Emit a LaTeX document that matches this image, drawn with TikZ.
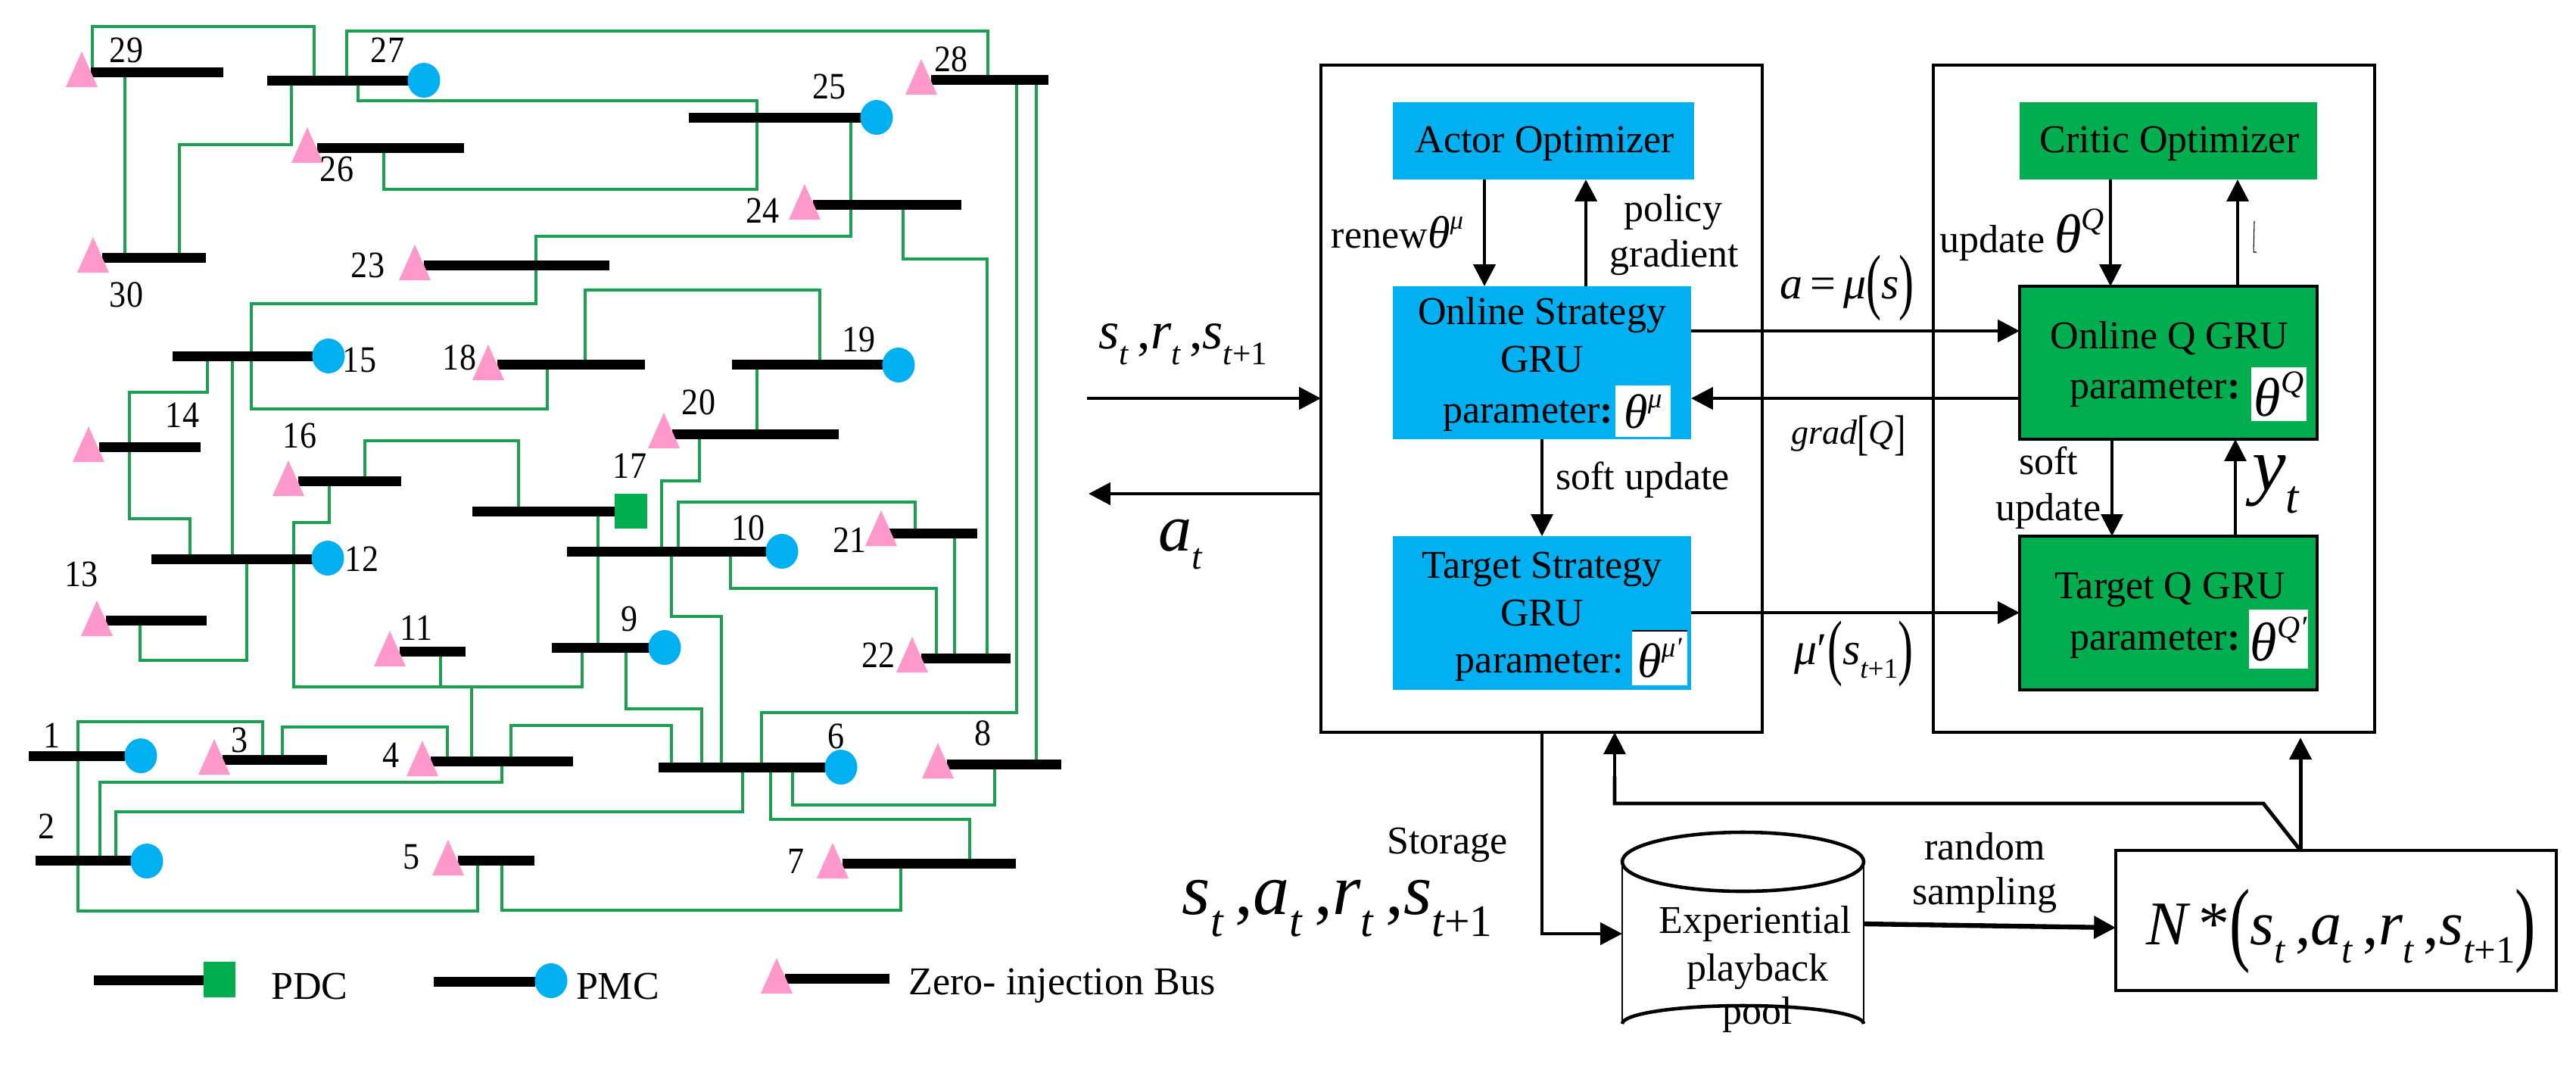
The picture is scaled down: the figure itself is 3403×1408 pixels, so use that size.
\documentclass[tikz,border=0pt]{standalone}
\usepackage{fontspec}
\setmainfont{Liberation Serif}
\usetikzlibrary{arrows.meta,shapes.geometric,backgrounds}
\definecolor{wirec}{HTML}{1AA050}
\definecolor{pinkc}{HTML}{FF99CC}
\definecolor{bluec}{HTML}{00B0F0}
\definecolor{greenc}{HTML}{00AD4F}
\newcommand{\pxfont}[1]{\fontsize{\fpeval{#1*0.28453}}{\fpeval{#1*0.34}}\selectfont}
\newcommand{\vi}[1]{{\itshape #1}}
\newcommand{\sbx}[1]{\raisebox{-.3em}{\scalebox{.62}{#1}}}
\newcommand{\spx}[1]{\raisebox{.42em}{\scalebox{.58}{\itshape #1}}}
\newcommand{\tallp}[2]{\raisebox{-.15em}{\scalebox{1}[#2]{#1}}}
\newcommand{\busn}[4]{\node[bus,minimum width={(#3-#2)*0.01cm}] (#1) at ({(#2+#3)/2},#4) {};}
\newcommand{\tri}[2]{\fill[pinkc] (#1,#2) -- ++(-21,47) -- ++(42,0) -- cycle;}
\newcommand{\pmc}[3]{\node[pmcn] (#1) at (#2,#3) {};}
\newcommand{\numl}[3]{\node[num] (n#1) at (#2,#3) {\scalebox{1}[1.12]{#1}};}
\newcommand{\boxn}[6]{\node[#1,minimum width={(#5-#3)*0.01cm},minimum height={(#6-#4)*0.01cm}] (#2) at ({(#3+#5)/2},{(#4+#6)/2}) {};}
\tikzset{
  bus/.style={rectangle,fill=black,inner sep=0,outer sep=0,minimum height=0.13cm},
  wire/.style={draw=wirec,line width=1.25pt,line join=miter},
  pmcn/.style={ellipse,fill=bluec,inner sep=0,outer sep=0,minimum width=0.43cm,minimum height=0.46cm},
  num/.style={inner sep=0,font=\pxfont{44}},
  txt/.style={inner sep=0,font=\pxfont{52}},
  frame/.style={rectangle,draw=black,line width=1.15pt,inner sep=0,outer sep=0},
  bluebox/.style={rectangle,fill=bluec,inner sep=0,outer sep=0},
  greenbox/.style={rectangle,fill=greenc,inner sep=0,outer sep=0},
  greenframe/.style={rectangle,fill=greenc,draw=black,line width=1.15pt,inner sep=0,outer sep=0},
  whitebox/.style={rectangle,fill=white,inner sep=0,outer sep=0},
  plainbox/.style={rectangle,inner sep=0,outer sep=0},
  thinarrow/.style={line width=0.95pt,-{Triangle[length=8.2pt,width=8.2pt]}},
  thickarrow/.style={line width=1.4pt,-{Triangle[length=8.2pt,width=8.2pt]}},
  thinline/.style={line width=0.95pt},
  thickline/.style={line width=1.4pt},
}
\begin{document}
\begin{tikzpicture}[x=0.01cm,y=-0.01cm]
\useasboundingbox (0,0) rectangle (3403,1408);
% ---------- buses
\busn{b1}{38}{165}{998}
\busn{b2}{47}{174}{1136}
\busn{b3}{294}{432}{1003}
\busn{b4}{569}{757}{1005}
\busn{b5}{605}{706}{1136}
\busn{b6}{870}{1090}{1013}
\busn{b7}{1113}{1342}{1140}
\busn{b8}{1251}{1402}{1009}
\busn{b9}{729}{858}{855}
\busn{b10}{749}{1012}{728}
\busn{b11}{528}{615}{860}
\busn{b12}{200}{413}{738}
\busn{b13}{140}{273}{819}
\busn{b14}{131}{265}{590}
\busn{b15}{228}{415}{470}
\busn{b16}{394}{530}{635}
\busn{b17}{624}{812}{675}
\busn{b18}{657}{852}{481}
\busn{b19}{967}{1168}{481}
\busn{b20}{888}{1108}{573}
\busn{b21}{1175}{1291}{704}
\busn{b22}{1217}{1335}{869}
\busn{b23}{560}{805}{350}
\busn{b24}{1074}{1270}{270}
\busn{b25}{910}{1138}{155}
\busn{b26}{419}{613}{195}
\busn{b27}{353}{540}{106}
\busn{b28}{1230}{1385}{105}
\busn{b29}{120}{295}{95}
\busn{b30}{135}{272}{340}
\busn{lg1}{124}{269}{1294}
\busn{lg2}{573}{707}{1296}
\busn{lg3}{1037}{1175}{1292}
% ---------- wires
\begin{scope}[on background layer]
\draw[wire] (122,0 |- b29) -- (122,35) -- (415,35) -- (415,0 |- b27);
\draw[wire] (165,0 |- b29) -- (165,0 |- b30);
\draw[wire] (458,0 |- b27) -- (458,41) -- (1305,41) -- (1305,0 |- b28);
\draw[wire] (473,0 |- b27) -- (473,133) -- (1000,133) -- (1000,250) -- (507,250) -- (507,0 |- b26);
\draw[wire] (385,0 |- b27) -- (385,191) -- (237,191) -- (237,0 |- b30);
\draw[wire] (1124,0 |- b25) -- (1124,312) -- (708,312) -- (708,401) -- (332,401) -- (332,540) -- (723,540) -- (723,0 |- b18);
\draw[wire] (773,0 |- b18) -- (773,383) -- (1083,383) -- (1083,0 |- b19);
\draw[wire] (1000,0 |- b19) -- (1000,0 |- b20);
\draw[wire] (274,0 |- b15) -- (274,518) -- (171,518) -- (171,685) -- (251,685) -- (251,0 |- b12);
\draw[wire] (307,0 |- b15) -- (307,0 |- b12);
\draw[wire] (326,0 |- b12) -- (326,872) -- (185,872) -- (185,0 |- b13);
\draw[wire] (482,0 |- b16) -- (482,582) -- (685,582) -- (685,0 |- b17);
\draw[wire] (435,0 |- b16) -- (435,690) -- (388,690) -- (388,907) -- (769,907) -- (769,0 |- b9);
\draw[wire] (582,0 |- b11) -- (582,907);
\draw[wire] (623,907) -- (623,0 |- b4);
\draw[wire] (790,0 |- b17) -- (790,0 |- b9);
\draw[wire] (924,0 |- b20) -- (924,635) -- (874,635) -- (874,0 |- b10);
\draw[wire] (896,0 |- b10) -- (896,663) -- (1209,663) -- (1209,0 |- b21);
\draw[wire] (1261,0 |- b21) -- (1261,0 |- b22);
\draw[wire] (965,0 |- b10) -- (965,777) -- (1237,777) -- (1237,0 |- b22);
\draw[wire] (887,0 |- b10) -- (887,814) -- (953,814) -- (953,0 |- b6);
\draw[wire] (827,0 |- b9) -- (827,936) -- (927,936) -- (927,0 |- b6);
\draw[wire] (1193,0 |- b24) -- (1193,342) -- (1304,342) -- (1304,0 |- b22);
\draw[wire] (1343,0 |- b28) -- (1343,941) -- (1006,941) -- (1006,0 |- b6);
\draw[wire] (1369,0 |- b28) -- (1369,0 |- b8);
\draw[wire] (1047,0 |- b6) -- (1047,1063) -- (1314,1063) -- (1314,0 |- b8);
\draw[wire] (1018,0 |- b6) -- (1018,1082) -- (1281,1082) -- (1281,0 |- b7);
\draw[wire] (981,0 |- b6) -- (981,1072) -- (153,1072) -- (153,0 |- b2);
\draw[wire] (1190,0 |- b7) -- (1190,1202) -- (663,1202) -- (663,0 |- b5);
\draw[wire] (347,0 |- b3) -- (347,953) -- (103,953) -- (103,1203) -- (631,1203) -- (631,0 |- b5);
\draw[wire] (373,0 |- b3) -- (373,960) -- (591,960) -- (591,0 |- b4);
\draw[wire] (675,0 |- b4) -- (675,958) -- (887,958) -- (887,0 |- b6);
\draw[wire] (663,0 |- b4) -- (663,1033) -- (132,1033) -- (132,0 |- b2);
\end{scope}
% ---------- triangles
\tri{108}{68} \tri{406}{168} \tri{123}{313} \tri{548}{323} \tri{1217}{78} \tri{1063}{243}
\tri{645}{455} \tri{877}{545} \tri{117}{563} \tri{128}{793} \tri{381}{608} \tri{515}{833}
\tri{1164}{674} \tri{1205}{841} \tri{1239}{981} \tri{1100}{1113} \tri{283}{976} \tri{558}{978}
\tri{592}{1109} \tri{1026}{1265}
% ---------- circles and squares
\pmc{c1}{186}{998} \pmc{c2}{194}{1137} \pmc{c6}{1111}{1013} \pmc{c9}{878}{855} \pmc{c10}{1033}{728}
\pmc{c12}{433}{737} \pmc{c15}{434}{470} \pmc{c19}{1187}{482} \pmc{c25}{1158}{155} \pmc{c27}{560}{106}
\pmc{clg}{728}{1295}
\boxn{greenbox}{sq17}{812}{652}{855}{698}
\boxn{greenbox}{sqlg}{269}{1270}{311}{1317}
% ---------- numbers
\numl{1}{69}{971} \numl{2}{62}{1091} \numl{3}{317}{977} \numl{4}{516}{997} \numl{5}{543}{1132}
\numl{6}{1104}{972} \numl{7}{1051}{1137} \numl{8}{1298}{968} \numl{9}{831}{817} \numl{10}{988}{697}
\numl{11}{550}{829} \numl{12}{478}{738} \numl{13}{108}{758} \numl{14}{241}{548} \numl{15}{475}{475}
\numl{16}{396}{575} \numl{17}{832}{615} \numl{18}{607}{472} \numl{19}{1134}{448} \numl{20}{923}{531}
\numl{21}{1122}{713} \numl{22}{1160}{865} \numl{23}{486}{350} \numl{24}{1007}{278} \numl{25}{1095}{114}
\numl{26}{445}{223} \numl{27}{512}{66} \numl{28}{1256}{78} \numl{29}{167}{66} \numl{30}{167}{389}
% ---------- legend
\node[txt] (pdc) at (409,1302) {PDC};
\node[txt] (pmct) at (816,1302) {PMC};
\node[txt,anchor=west] (zib) at (1200,1302) {Zero- injection Bus};
% ---------- right part: frames
\boxn{frame}{frA}{1745}{86}{2328}{967}
\boxn{frame}{frB}{2554}{86}{3137}{967}
\boxn{bluebox}{actor}{1840}{135}{2238}{237}
\boxn{bluebox}{online}{1840}{378}{2234}{580}
\boxn{bluebox}{target}{1840}{708}{2234}{911}
\boxn{greenbox}{critic}{2668}{135}{3061}{237}
\boxn{greenframe}{onq}{2668}{378}{3061}{580}
\boxn{greenframe}{tgq}{2668}{708}{3061}{911}
\boxn{frame}{nbox}{2795}{1123}{3377}{1308}
\boxn{plainbox}{pool}{2143}{1099}{2462}{1376}
\boxn{whitebox}{w1}{2134}{509}{2207}{577}
\boxn{whitebox}{w2}{2156}{833}{2229}{905}
\boxn{whitebox}{w3}{2974}{485}{3047}{556}
\boxn{whitebox}{w4}{2971}{805}{3049}{883}
\draw[line width=0.4pt] (w2.north west) -- (w2.north east);
% ---------- texts in boxes
\node[txt] (tactor) at (2041,190) {Actor Optimizer};
\node[txt] (tcritic) at (2866,190) {Critic Optimizer};
\node[txt] (ton1) at (2037,416) {Online Strategy};
\node[txt] (ton2) at (2037,475) {GRU};
\node[txt,anchor=east] (ton3) at (2132,549) {parameter{\bfseries :}};
\node[txt] (tta1) at (2037,752) {Target Strategy};
\node[txt] (tta2) at (2037,810) {GRU};
\node[txt,anchor=east] (tta3) at (2146,879) {parameter:};
\node[txt] (tq1) at (2866,447) {Online Q GRU};
\node[txt,anchor=east] (tq2) at (2960,517) {parameter{\bfseries :}};
\node[txt] (tq3) at (2867,779) {Target Q GRU};
\node[txt,anchor=east] (tq4) at (2960,849) {parameter{\bfseries :}};
\node[txt,font=\pxfont{64}] (th1) at (w1) {\vi{θ}\spx{μ}};
\node[txt,font=\pxfont{64}] (th2) at (w2) {\vi{θ}\spx{μ′}};
\node[txt,font=\pxfont{72}] (th3) at (w3) {\vi{θ}\spx{Q}};
\node[txt,font=\pxfont{72}] (th4) at (w4) {\vi{θ}\spx{Q′}};
% ---------- arrows within frames
\draw[thickarrow] (1961,0 |- actor.south) -- (1961,0 |- online.north);
\draw[thickarrow] (2095,0 |- online.north) -- (2095,0 |- actor.south);
\draw[thinarrow] (online.south -| 2037,0) -- (target.north -| 2037,0);
\draw[thinarrow] (2788,0 |- critic.south) -- (2788,0 |- onq.north);
\draw[thinarrow] (2956,0 |- onq.north) -- (2956,0 |- critic.south);
\draw[thinarrow] (2790,0 |- onq.south) -- (2790,0 |- tgq.north);
\draw[thinarrow] (2953,0 |- tgq.north) -- (2953,0 |- onq.south);
% ---------- arrows between frames
\coordinate (inA) at (1436,526);
\coordinate (outA) at (1438,652);
\draw[thickarrow] (inA) -- (frA.west |- inA);
\draw[thickarrow] (frA.west |- outA) -- (outA);
\draw[thickarrow] (online.east |- 0,437) -- (onq.west |- 0,437);
\draw[thickarrow] (onq.west |- 0,526) -- (online.east |- 0,526);
\draw[thickarrow] (target.east |- 0,809) -- (tgq.west |- 0,809);
% ---------- storage and sampling
\draw[thinline] (2037,0 |- frA.south) -- (2037,1233);
\draw[thickarrow,line cap=rect] (2037,1233) -- (pool.west |- 0,1233);
\draw[line width=1.8pt,-{Triangle[length=8.2pt,width=8.2pt]}] (pool.east |- 0,1220) -- (nbox.west |- 0,1225);
\draw[thickline,line join=miter] (3039,0 |- nbox.north) -- (2990,1061) -- (2133,1061) -- (2133,1025);
\draw[thinarrow] (2133,1030) -- (2133,0 |- frA.south);
\coordinate (nup) at (3039,974);
\draw[thickarrow] (3039,0 |- nbox.north) -- (nup);
% ---------- cylinder
\draw[line width=0.75pt] (pool.west |- 0,1138) -- (pool.west |- 0,1352);
\draw[line width=0.75pt] (pool.east |- 0,1138) -- (pool.east |- 0,1352);
\draw[line width=1.3pt] (2302.5,1138) ellipse [x radius=159.5,y radius=39];
\draw[line width=1.3pt] (pool.west |- 0,1352) arc [start angle=180,end angle=0,x radius=159.5,y radius=-24];
\node[txt] (ex1) at (2319,1220) {Experiential};
\node[txt] (ex2) at (2322,1283) {playback};
\node[txt] (ex3) at (2322,1340) {pool};
% ---------- labels
\node[txt] (lrenew) at (1846,307) {renew\pxfont{60}\vi{θ}\spx{μ}};
\node[txt] (lpol) at (2210,280) {policy};
\node[txt] (lgrad) at (2212,340) {gradient};
\node[txt] (lsoft) at (2170,634) {soft update};
\node[txt,anchor=west] (lupd) at (2562,310) {update \pxfont{72}\vi{θ}\spx{Q}};
\node[txt] (lsoft2) at (2706,608) {soft};
\node[txt] (lupd2) at (2706,675) {update};
\node[txt] (lstore) at (1912,1116) {Storage};
\node[txt] (lrand) at (2622,1118) {random};
\node[txt] (lsamp) at (2622,1182) {sampling};
\node[txt,font=\pxfont{70},anchor=west] (lin) at (1451,455) {\vi{s}\sbx{\vi{t}}\,,\vi{r}\sbx{\vi{t}}\,,\vi{s}\sbx{\vi{t}+1}};
\node[txt,font=\pxfont{88},anchor=west] (lat) at (1530,719) {\vi{a}\raisebox{-.28em}{\scalebox{.55}{\itshape t}}};
\node[txt,font=\pxfont{60}] (lmu) at (2440,380) {\vi{a}\,=\,\vi{μ}\tallp{(}{1.6}\vi{s}\tallp{)}{1.6}};
\node[txt,font=\pxfont{46}] (lgr) at (2442,575) {\vi{grad}\tallp{[}{1.4}\vi{Q}\tallp{]}{1.4}};
\node[txt,font=\pxfont{60}] (lmp) at (2449,863) {\vi{μ}′\tallp{(}{1.6}\vi{s}\sbx{\vi{t}+1}\tallp{)}{1.6}};
\node[txt,font=\pxfont{100}] (lyt) at (3006,640) {\vi{y}\sbx{\vi{t}}};
\node[txt,font=\pxfont{96},anchor=west] (lsa) at (1561,1200) {\vi{s}\sbx{\vi{t}}\,,\vi{a}\sbx{\vi{t}}\,,\vi{r}\sbx{\vi{t}}\,,\vi{s}\sbx{\vi{t}+1}};
\node[txt,font=\pxfont{82},anchor=west] (ln) at (2835,1230) {\vi{N}\,*\tallp{(}{1.5}\vi{s}\sbx{\vi{t}}\,,\vi{a}\sbx{\vi{t}}\,,\vi{r}\sbx{\vi{t}}\,,\vi{s}\sbx{\vi{t}+1}\tallp{)}{1.5}};
% ---------- small mark beside the critic arrow
\draw[line width=0.3pt] (2978,292) -- (2977,333) -- (2981,333);
\end{tikzpicture}
\end{document}
